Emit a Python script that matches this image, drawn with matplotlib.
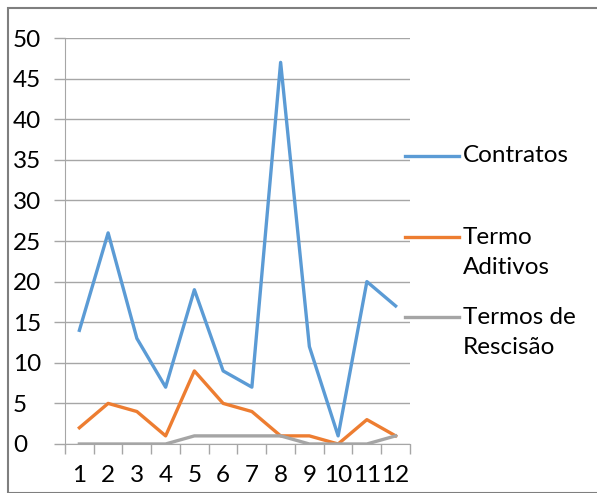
import matplotlib
matplotlib.use("Agg")
import matplotlib.pyplot as plt
from matplotlib.lines import Line2D
from matplotlib.patches import Rectangle
import matplotlib.transforms as mtransforms

categories = ["1", "2", "3", "4", "5", "6", "7", "8", "9", "10", "11", "12"]
contratos = [14, 26, 13, 7, 19, 9, 7, 47, 12, 1, 20, 17]
termo_aditivos = [2, 5, 4, 1, 9, 5, 4, 1, 1, 0, 3, 1]
termos_rescisao = [0, 0, 0, 0, 1, 1, 1, 1, 0, 0, 0, 1]
series_names = ["Contratos", "Termo\nAditivos", "Termos de\nRescisão"]
colors = ["#5B9BD5", "#ED7D31", "#A5A5A5"]
y_ticks = list(range(0, 55, 5))

plt.rcParams['font.family'] = ['Lato', 'DejaVu Sans']
FS = 17.5
W, H = 597, 493
fig = plt.figure(figsize=(W / 100, H / 100), dpi=100)
ax = fig.add_axes([65 / W, 1 - 444 / H, (410 - 65) / W, (444 - 38) / H])

x = list(range(1, len(categories) + 1))
for vals, c in zip([contratos, termo_aditivos, termos_rescisao], colors):
    ax.plot(x, vals, color=c, lw=2.4, solid_joinstyle='round', zorder=3)

ax.set_xlim(0.5, len(categories) + 0.5)
ax.set_ylim(0, 50)
ax.set_yticks(y_ticks)
ax.set_yticklabels([str(t) for t in y_ticks], fontsize=FS)
ax.grid(axis='y', color='#A6A6A6', lw=1)
ax.set_axisbelow(True)
ax.set_xticks(x)
ax.set_xticklabels(categories, fontsize=FS)
ax.tick_params(axis='x', length=0, pad=15)
ax.set_xticks([i + 0.5 for i in range(len(categories) + 1)], minor=True)
ax.tick_params(axis='x', which='minor', length=7, color='#A6A6A6', width=1)
ax.tick_params(axis='y', length=8, color='#A6A6A6', width=1, pad=0)
for s in ['top', 'right']:
    ax.spines[s].set_visible(False)
ax.spines['left'].set_color('#A6A6A6')
ax.spines['bottom'].set_color('#A6A6A6')

# y labels left-aligned near figure edge
offset = mtransforms.ScaledTranslation(-52 / 100, 0, fig.dpi_scale_trans)
for lbl in ax.get_yticklabels():
    lbl.set_transform(ax.get_yaxis_transform(which='tick1') + offset)
    lbl.set_horizontalalignment('left')

# legend
leg_y = [156, 237, 317]
for name, c, ly in zip(series_names, colors, leg_y):
    fig.add_artist(Line2D([405 / W, 459 / W], [1 - ly / H, 1 - ly / H], color=c, lw=2.4,
                          transform=fig.transFigure))
    for k, part in enumerate(name.split("\n")):
        fig.text(463 / W, 1 - (ly + 31 * k) / H, part, fontsize=FS, va='center', ha='left')

fig.add_artist(Rectangle((8 / W, 0), 1, 1 - 8 / H, transform=fig.transFigure,
                         fill=False, edgecolor='#7F7F7F', lw=1.5))
fig.savefig("out.png", dpi=100)
